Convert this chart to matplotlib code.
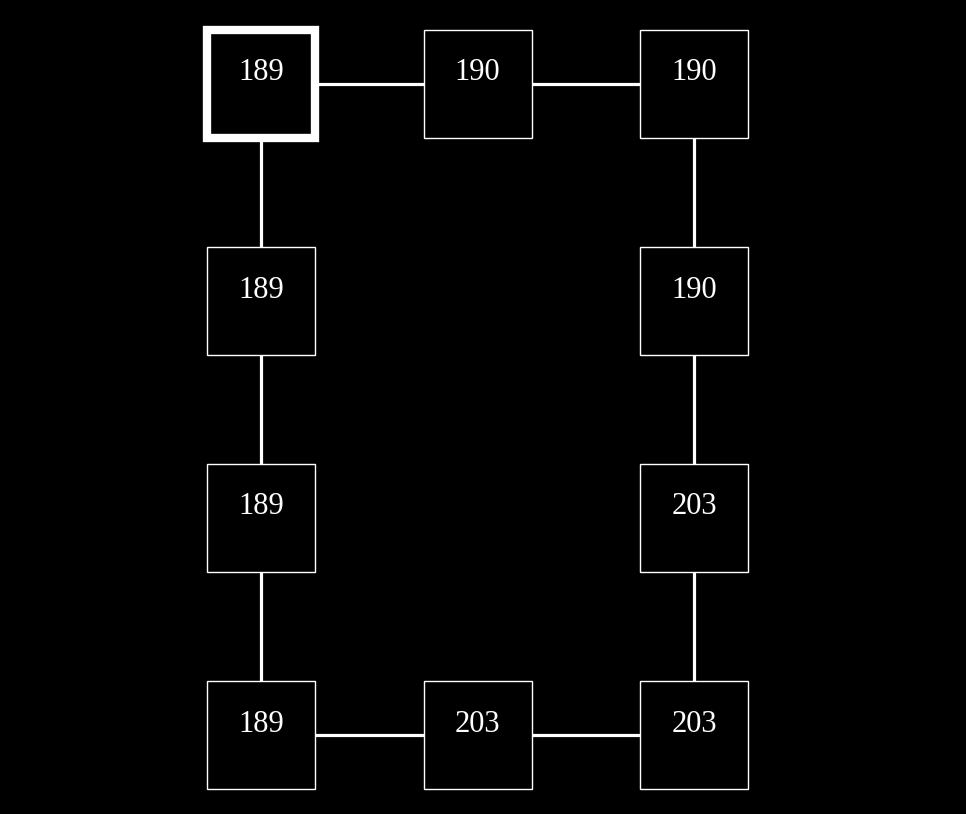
"""Ring of value boxes on a black background."""

import matplotlib.pyplot as plt
from matplotlib.patches import Rectangle

# ring order, grid column/row and value
cols = [0, 1, 2, 2, 2, 2, 1, 0, 0, 0]
rows = [0, 0, 0, 1, 2, 3, 3, 3, 2, 1]
values = [189, 190, 190, 190, 203, 203, 203, 189, 189, 189]
highlight = 0

X0, DX = 261, 216.5
Y0, DY = 84, 217
BOX = 108


def main() -> None:
    fig = plt.figure(figsize=(9.66, 8.14), dpi=100, facecolor="black")
    ax = fig.add_axes([0, 0, 1, 1])
    ax.set_facecolor("black")
    ax.set_xlim(0, 966)
    ax.set_ylim(814, 0)
    ax.axis("off")

    xs = [X0 + c * DX for c in cols]
    ys = [Y0 + r * DY for r in rows]
    n = len(values)
    for i in range(n):
        j = (i + 1) % n
        ax.plot([xs[i], xs[j]], [ys[i], ys[j]], color="white", lw=2.3, zorder=1)

    for i, (x, y, v) in enumerate(zip(xs, ys, values)):
        lw = 6 if i == highlight else 1
        ax.add_patch(Rectangle((x - BOX / 2, y - BOX / 2), BOX, BOX,
                               facecolor="black", edgecolor="white", lw=lw, zorder=2))
        ax.text(x, y - 11, str(v), color="white", fontsize=22,
                family="Liberation Serif", ha="center", va="center", zorder=3)

    fig.savefig("out.png", dpi=100, facecolor="black")


if __name__ == "__main__":
    main()
